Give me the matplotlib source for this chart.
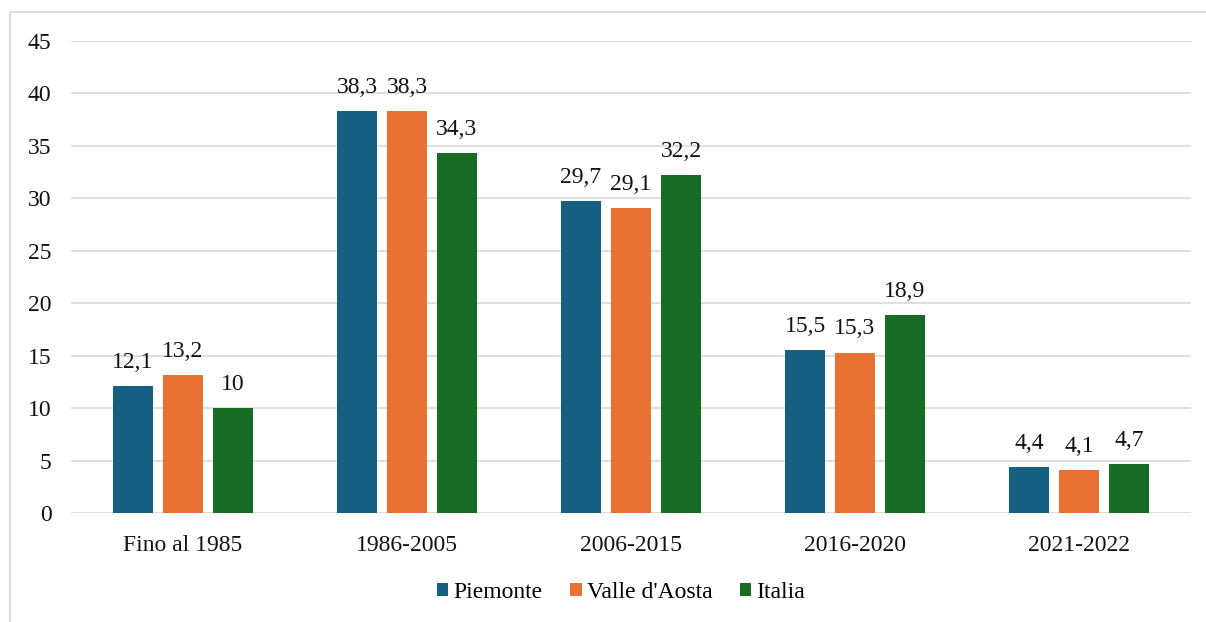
import matplotlib.pyplot as plt
import numpy as np
from matplotlib.patches import Rectangle

categories = ['Fino al 1985', '1986-2005', '2006-2015', '2016-2020', '2021-2022']
piemonte = [12.1, 38.3, 29.7, 15.5, 4.4]
valle = [13.2, 38.3, 29.1, 15.3, 4.1]
italia = [10, 34.3, 32.2, 18.9, 4.7]
series = [('Piemonte', piemonte, '#156082'),
          ("Valle d'Aosta", valle, '#E97132'),
          ('Italia', italia, '#196B24')]

plt.rcParams['font.family'] = ['Liberation Serif', 'DejaVu Serif']

fig = plt.figure(figsize=(12.06, 6.22), dpi=100)
fig.patches.append(Rectangle((10 / 1206, -0.01), 1.2, 1 - 12 / 622 + 0.01,
                             transform=fig.transFigure, fill=False,
                             edgecolor='#d9d9d9', lw=1.2))
ax = fig.add_axes([71 / 1206, 1 - 513 / 622, 1120 / 1206, 472 / 622])

x = np.arange(len(categories))
w = 0.179
off = 0.223
for i, (name, vals, col) in enumerate(series):
    pos = x + (i - 1) * off
    bars = ax.bar(pos, vals, w, color=col, label=name, zorder=3)
    for b, v in zip(bars, vals):
        ax.text(b.get_x() + b.get_width() / 2, v + 1.72,
                f'{v:g}'.replace('.', ','), ha='center', va='baseline',
                fontsize=17, color='#111111')

ax.set_xlim(-0.5, len(categories) - 0.5)
ax.set_ylim(0, 45)
ax.set_yticks(range(0, 46, 5))
ax.set_xticks(x)
ax.set_xticklabels(categories)
ax.tick_params(axis='both', length=0, labelsize=17, colors='#111111')
ax.tick_params(axis='y', pad=14)
ax.tick_params(axis='x', pad=16)
ax.grid(axis='y', color='#d9d9d9', lw=1.2, zorder=0)
for s in ax.spines.values():
    s.set_visible(False)
ax.axhline(0, color='#d9d9d9', lw=1.2, zorder=1)

leg = ax.legend(loc='center', bbox_to_anchor=(0.491, -0.168), ncol=3,
                frameon=False, handlelength=0.5, handleheight=0.5,
                handletextpad=0.22, columnspacing=1.15, fontsize=17)

fig.savefig('out.png', dpi=100)
